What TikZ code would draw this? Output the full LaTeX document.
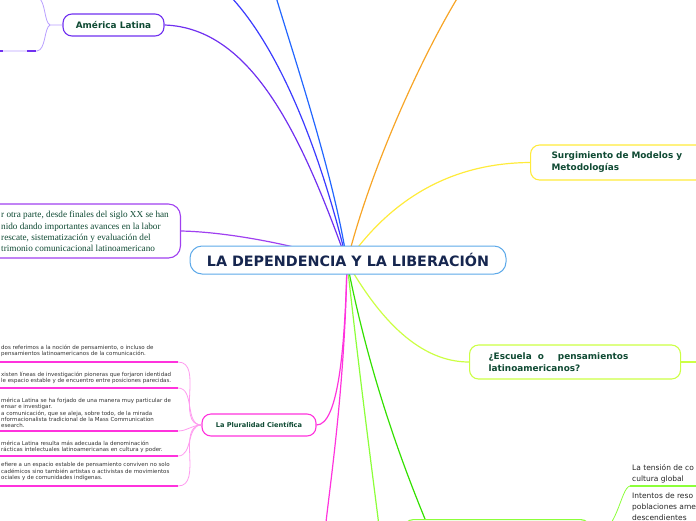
\documentclass[tikz,border=0pt]{standalone}
\usepackage{fontspec}
\setmainfont{DejaVu Sans}
\newfontfamily\serifont{Liberation Serif}
\usetikzlibrary{backgrounds}
\definecolor{labelgreen}{HTML}{0F4A33}
\definecolor{navy}{HTML}{16264F}
\definecolor{rootblue}{HTML}{5DA9E9}
\definecolor{alpurple}{HTML}{7030F0}
\definecolor{alsub}{HTML}{B9A0FF}
\definecolor{bluepurple}{HTML}{3A3AFF}
\definecolor{brblue}{HTML}{2266FF}
\definecolor{brorange}{HTML}{F7A527}
\definecolor{bryellow}{HTML}{FFEB3B}
\definecolor{brlime}{HTML}{CCFF44}
\definecolor{brgreen}{HTML}{33E000}
\definecolor{brlight}{HTML}{8CFF3A}
\definecolor{brmagenta}{HTML}{FF33DD}
\definecolor{brpink}{HTML}{FF9BEF}
\definecolor{brviolet}{HTML}{A040F0}
\definecolor{subgray}{HTML}{333333}
\begin{document}
\begin{tikzpicture}[x=1pt,y=-1pt,
  topic/.style={draw, fill=white, rounded corners=9pt, line width=1.1pt, inner sep=0pt,
    font=\fontsize{8.9}{12}\selectfont\bfseries, text=labelgreen},
  rootbox/.style={draw=rootblue, fill=white, rounded corners=12pt, line width=1pt,
    minimum width=316pt, minimum height=28pt, inner sep=0pt,
    font=\fontsize{14.3}{16}\selectfont\bfseries, text=navy},
  subtxt/.style={anchor=south west, align=left, inner sep=0pt, text=subgray,
    font=\fontsize{5.5}{6.6}\selectfont},
  brtxt/.style={align=left, inner sep=0pt, text=black!85,
    font=\fontsize{7.5}{11}\selectfont},
  branch/.style={line width=1.2pt},
  subcon/.style={line width=0.8pt},
  uline/.style={line width=1.4pt}
]
\useasboundingbox (0,0) rectangle (696,520);
\clip (0,0) rectangle (696,520);

% nodes
\node[rootbox] (root) at (348,260) {LA DEPENDENCIA Y LA LIBERACIÓN};
\coordinate (hub) at (347,262);

\node[topic, draw=alpurple, minimum width=101pt, minimum height=22pt] (al) at (113.5,25) {América Latina};

\node[topic, draw=bryellow, anchor=west, minimum height=35pt, text width=150pt, inner xsep=21pt, align=left] (sm) at (530,162.5) {Surgimiento de Modelos y\\Metodologías};

\node[topic, draw=brlime, anchor=west, minimum height=34pt, text width=173pt, inner xsep=19pt, align=left] (esc) at (469,362) {¿Escuela\hspace{6pt}o\hspace{14pt}pensamientos\\latinoamericanos?};

\node[topic, draw=brmagenta, minimum width=114pt, minimum height=22pt, font=\fontsize{6.6}{8}\selectfont\bfseries] (pl) at (259,425) {La Pluralidad Científica};

\node[draw=brviolet, fill=white, line width=1.1pt, rounded corners=12pt, minimum width=230pt, minimum height=54pt, anchor=east] (lt) at (181,231) {};
\node[anchor=west, align=left, inner sep=0pt, text=labelgreen, font=\serifont\fontsize{9.2}{11.3}\selectfont] (ltt) at (1,231.5) {r otra parte, desde finales del siglo XX se han\\nido dando importantes avances en la labor\\ rescate, sistematización y evaluación del\\trimonio comunicacional latinoamericano};

\node[draw=brlight, fill=white, line width=1.1pt, rounded corners=10pt, minimum width=187pt, minimum height=34pt, anchor=north west] (bn) at (403,519) {};

% Pluralidad sub-items
\node[subtxt] (p1) at (1,357) {dos referimos a la noción de pensamiento, o incluso de\\pensamientos latinoamericanos de la comunicación.};
\node[subtxt] (p2) at (1,384) {xisten líneas de investigación pioneras que forjaron identidad\\le espacio estable y de encuentro entre posiciones parecidas.};
\node[subtxt, font=\fontsize{5.5}{6.25}\selectfont] (p3) at (1,428) {mérica Latina se ha forjado de una manera muy particular de\\ensar e investigar.\\a comunicación, que se aleja, sobre todo, de la mirada\\nformacionalista tradicional de la Mass Communication\\esearch.};
\node[subtxt] (p4) at (1,453) {mérica Latina resulta más adecuada la denominación\\rácticas intelectuales latinoamericanas en cultura y poder.};
\node[subtxt] (p5) at (1,481) {efiere a un espacio estable de pensamiento conviven no solo\\cadémicos sino también artistas o activistas de movimientos\\ociales y de comunidades indígenas.};
\coordinate (p1e) at (178,362);
\coordinate (p2e) at (178,388);
\coordinate (p3e) at (178,431);
\coordinate (p4e) at (178,456);
\coordinate (p5e) at (178,486);

% bottom right texts
\node[brtxt, anchor=south west] (br1t) at (632,483.5) {La tensión de co\\cultura global};
\node[brtxt, anchor=north west] (br2t) at (632,493) {Intentos de reso\\poblaciones ame\\descendientes};
\coordinate (br1) at (630,486);

% off-canvas ends
\coordinate (tp1) at (231,-3);
\coordinate (tp2) at (276,-3);
\coordinate (tp3) at (458,-3);
\coordinate (bt1) at (326,522);
\coordinate (bt2) at (378.5,522);
\coordinate (bt3) at (425,519);
\coordinate (alup) at (38,-3);
\coordinate (aldn) at (37,51);
\coordinate (escr) at (700,362);

\begin{scope}[on background layer]
  \draw[branch, alpurple] (hub) .. controls (300,130) and (250,28) .. (al.east);
  \draw[branch, bluepurple] (hub) .. controls (320,150) and (280,50) .. (tp1);
  \draw[branch, brblue] (hub) .. controls (335,180) and (295,60) .. (tp2);
  \draw[branch, brorange] (hub) .. controls (370,170) and (420,60) .. (tp3);
  \draw[branch, bryellow] (hub) .. controls (390,200) and (450,163) .. (sm.west);
  \draw[branch, brlime] (hub) .. controls (380,320) and (420,362) .. (esc.west);
  \draw[branch, brgreen] (hub) .. controls (370,380) and (405,470) .. (bt3);
  \draw[branch, brlight] (hub) .. controls (360,380) and (372,470) .. (bt2);
  \draw[branch, brmagenta] (hub) .. controls (345,380) and (332,470) .. (bt1);
  \draw[branch, brmagenta] (hub) .. controls (345,350) and (338,425) .. (pl.east);
  \draw[branch, brviolet] (hub) .. controls (300,246) and (230,232) .. (lt.east);
\end{scope}

% other connectors
\draw[branch, brlime] (esc.east) -- (escr);
\draw[subcon, alsub] (al.west) -- (50,25) .. controls (44,22) and (46,2) .. (alup);
\draw[subcon, alsub] (50,25) .. controls (44,28) and (46,50) .. (aldn) -- (0,51);
\draw[line width=1.6pt, alpurple] (0,51) -- (3,51) (27,51) -- (36,51);

\foreach \p in {p1e,p2e,p3e,p4e,p5e}{
  \draw[subcon, brpink] (pl.west) to[out=180,in=0] (\p);
}
\foreach \p in {p1e,p2e,p3e,p4e,p5e}{
  \draw[uline, brmagenta] (0,0 |- \p) -- (\p);
}

\draw[subcon, brlight] (bn.east) .. controls (618,535) and (620,488) .. (br1);
\draw[uline, brlight] (br1) -- (700,486);
\end{tikzpicture}
\end{document}
